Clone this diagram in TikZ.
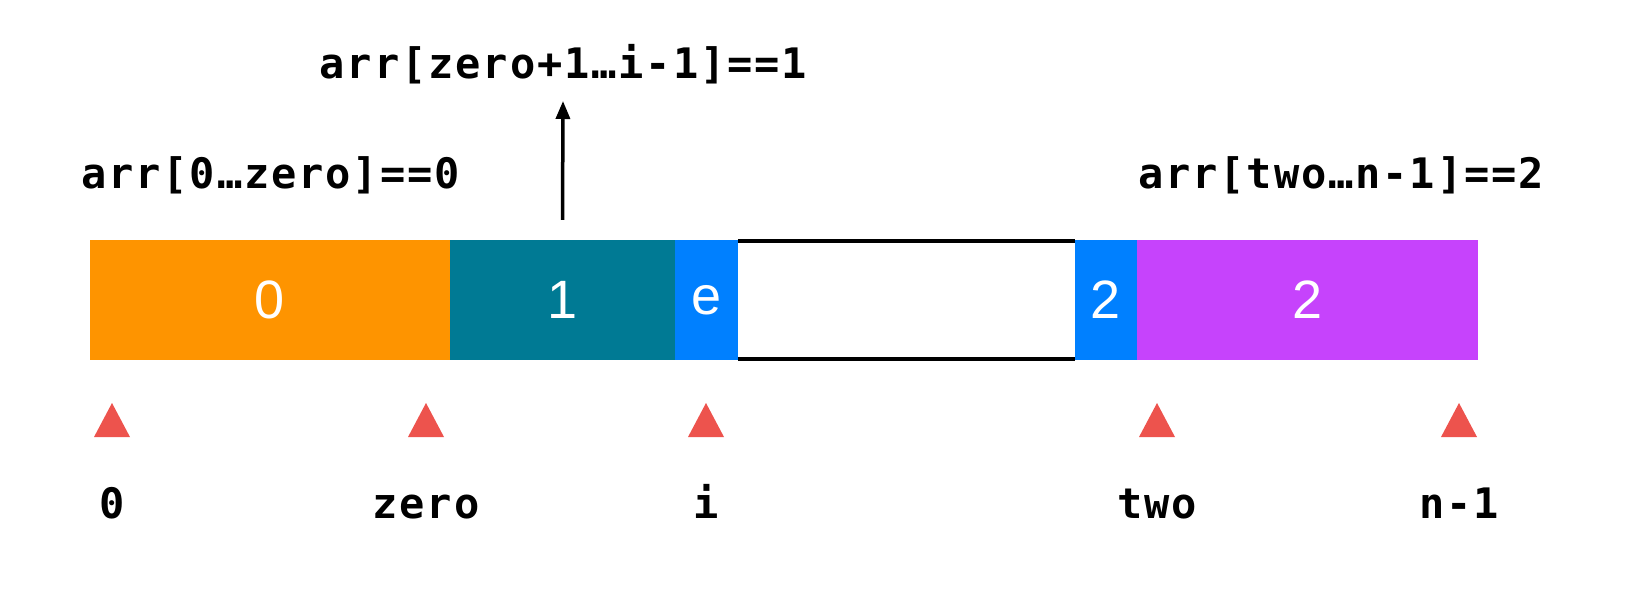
\documentclass[tikz,border=0pt]{standalone}
\usepackage{fontspec}
\setmainfont{Liberation Sans}
\newfontfamily\codefont{DejaVu Sans Mono}[LetterSpace=4.5]
\usetikzlibrary{arrows.meta}
\definecolor{cOrange}{RGB}{254,148,0}
\definecolor{cTeal}{RGB}{0,122,148}
\definecolor{cBlue}{RGB}{0,128,255}
\definecolor{cPurple}{RGB}{198,67,252}
\definecolor{cRed}{RGB}{237,83,77}
\begin{document}
\begin{tikzpicture}[x=1pt,y=-1pt,
  cell/.style={inner sep=0pt, minimum height=120pt, text=white,
    font=\fontsize{54}{54}\selectfont},
  code/.style={inner sep=0pt, font=\codefont\bfseries\fontsize{42}{42}\selectfont},
  marker/.style={fill=cRed}]
\useasboundingbox (0,0) rectangle (1630,595);
% bar cells
\node[cell, fill=cOrange, minimum width=360pt] (c0) at (270,300) {0};
\node[cell, fill=cTeal, minimum width=225pt] (c1) at (562.5,300) {1};
\node[cell, fill=cBlue, minimum width=63pt] (ce) at (706.5,300) {e};
\node[cell, minimum width=337pt] (gap) at (906.5,300) {};
\node[cell, fill=cBlue, minimum width=62pt] (c2a) at (1106,300) {2};
\node[cell, fill=cPurple, minimum width=341pt] (c2) at (1307.5,300) {2};
\draw[line width=4pt] ([yshift=-1.5pt]gap.north west) -- ([yshift=-1.5pt]gap.north east);
\draw[line width=4pt] ([yshift=1.5pt]gap.south west) -- ([yshift=1.5pt]gap.south east);
% labels
\node[code, anchor=base] (lone) at (563.5,78) {arr[zero+1…i-1]==1};
\node[code, anchor=base] (lzero) at (270.5,188) {arr[0…zero]==0};
\node[code, anchor=base] (ltwo) at (1341,188) {arr[two…n-1]==2};
\coordinate (tip) at (563,101);
\draw[line width=3.5pt, -{Triangle[length=18pt,width=14pt]}] ([yshift=20pt]c1.north) -- (tip);
% markers and index labels
\foreach \x/\t/\n in {112/0/m0, 426/zero/mz, 706/i/mi, 1157/two/mt, 1459/n-1/mn}{
  \fill[marker] (\x-18,437) -- (\x,403) -- (\x+18,437) -- cycle;
  \node[code, anchor=base] (\n) at (\x,518) {\t};
}
\end{tikzpicture}
\end{document}
